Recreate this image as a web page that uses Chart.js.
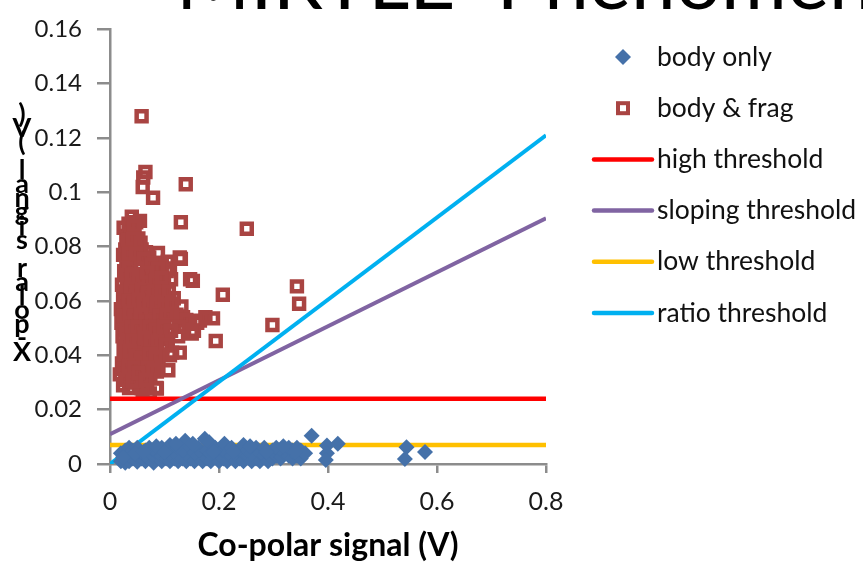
<!DOCTYPE html>
<html><head><meta charset="utf-8">
<script src="https://cdn.jsdelivr.net/npm/chart.js@4.4.1/dist/chart.umd.min.js"></script>
<style>html,body{margin:0;padding:0;background:#fff;overflow:hidden}#wrap{position:relative;width:863px;height:565px}</style>
</head><body><div id="wrap"><canvas id="c" width="863" height="565"></canvas></div>
<script>
const titleText = 'MIRTLE  Phenomenology';
const xAxisTitle = 'Co-polar signal (V)';
const yAxisTitle = 'X-polar signal (V)';
const xTickLabels = ['0', '0.2', '0.4', '0.6', '0.8'];
const yTickLabels = ['0', '0.02', '0.04', '0.06', '0.08', '0.1', '0.12', '0.14', '0.16'];
const seriesNames = ['body only', 'body & frag', 'high threshold', 'sloping threshold', 'low threshold', 'ratio threshold'];

const bodyOnly = [
  [0.020,0.001],[0.020,0.004],[0.028,0.002],[0.028,0.005],[0.028,0.0005],[0.035,0.001],[0.035,0.003],[0.035,0.006],
  [0.042,0.002],[0.042,0.005],[0.050,0.0008],[0.050,0.003],[0.050,0.006],[0.058,0.002],[0.058,0.004],
  [0.065,0.001],[0.065,0.005],[0.065,0.003],[0.072,0.002],[0.072,0.006],[0.080,0.0005],[0.080,0.003],[0.080,0.005],
  [0.088,0.002],[0.088,0.004],[0.095,0.001],[0.095,0.006],[0.095,0.003],[0.103,0.002],[0.103,0.005],
  [0.110,0.001],[0.110,0.004],[0.110,0.007],[0.118,0.002],[0.118,0.005],[0.125,0.001],[0.125,0.003],[0.125,0.006],
  [0.133,0.002],[0.133,0.005],[0.138,0.0086],[0.140,0.001],[0.140,0.004],[0.148,0.002],[0.148,0.006],
  [0.155,0.001],[0.155,0.004],[0.162,0.003],[0.162,0.006],[0.174,0.0093],[0.170,0.001],[0.170,0.004],
  [0.178,0.002],[0.178,0.005],[0.182,0.008],[0.185,0.001],[0.185,0.004],[0.193,0.003],[0.193,0.006],
  [0.200,0.001],[0.200,0.004],[0.208,0.002],[0.208,0.005],[0.210,0.0075],[0.215,0.001],[0.215,0.004],
  [0.223,0.003],[0.223,0.006],[0.230,0.001],[0.230,0.004],[0.238,0.002],[0.238,0.005],
  [0.245,0.001],[0.245,0.004],[0.245,0.007],[0.253,0.003],[0.253,0.005],[0.260,0.001],[0.260,0.004],
  [0.268,0.002],[0.268,0.006],[0.275,0.001],[0.275,0.004],[0.283,0.003],[0.283,0.006],[0.290,0.001],[0.290,0.004],
  [0.298,0.002],[0.298,0.005],[0.305,0.003],[0.305,0.006],[0.313,0.002],[0.315,0.0026],[0.320,0.004],
  [0.328,0.003],[0.328,0.006],[0.335,0.002],[0.335,0.005],[0.343,0.003],[0.343,0.006],[0.350,0.002],[0.350,0.005],[0.358,0.004],
  [0.024,0.0025],[0.046,0.004],[0.062,0.0045],[0.085,0.0065],[0.100,0.0045],[0.121,0.0075],[0.152,0.0075],
  [0.190,0.0045],[0.226,0.0045],[0.257,0.0065],[0.287,0.0045],[0.318,0.0065],[0.340,0.0045],
  [0.370,0.0104],[0.398,0.0068],[0.418,0.0075],[0.398,0.004],[0.396,0.0015],[0.544,0.0062],[0.541,0.0018],[0.578,0.0044]
];

const bodyFrag = [
  [0.058,0.128],[0.065,0.1075],[0.061,0.1055],[0.060,0.102],[0.079,0.098],[0.139,0.103],[0.130,0.089],[0.251,0.0866],
  [0.130,0.0755],[0.152,0.0674],[0.207,0.0623],[0.343,0.0654],[0.347,0.059],[0.298,0.0512],[0.194,0.0453],[0.189,0.0536],
  [0.165,0.0528],[0.147,0.0525],[0.154,0.049],[0.128,0.041],[0.107,0.0345],[0.110,0.040],[0.086,0.0278],[0.073,0.026],
  [0.088,0.0777],[0.110,0.072],[0.131,0.058],[0.134,0.054],[0.106,0.0745],[0.128,0.076],[0.147,0.068],
  [0.040,0.091],[0.048,0.089],[0.025,0.087],[0.055,0.0895],
  [0.030,0.084],[0.045,0.085],[0.052,0.083],[0.038,0.086],
  [0.028,0.079],[0.036,0.081],[0.047,0.080],[0.058,0.079],[0.066,0.078],
  [0.030,0.075],[0.041,0.076],[0.053,0.077],[0.072,0.076],[0.081,0.074],[0.095,0.073],
  [0.026,0.071],[0.035,0.072],[0.046,0.070],[0.057,0.072],[0.064,0.069],[0.078,0.071],[0.090,0.069],[0.104,0.071],
  [0.022,0.066],[0.031,0.068],[0.042,0.067],[0.051,0.065],[0.061,0.067],[0.070,0.066],[0.084,0.064],[0.099,0.066],[0.112,0.068],
  [0.024,0.061],[0.033,0.063],[0.044,0.062],[0.055,0.060],[0.063,0.063],[0.075,0.061],[0.088,0.062],[0.101,0.060],[0.117,0.061],
  [0.020,0.057],[0.029,0.058],[0.039,0.056],[0.048,0.059],[0.058,0.057],[0.067,0.055],[0.079,0.058],[0.093,0.056],[0.108,0.057],[0.122,0.055],
  [0.021,0.052],[0.032,0.054],[0.041,0.051],[0.052,0.053],[0.062,0.052],[0.071,0.054],[0.085,0.051],[0.098,0.053],[0.118,0.052],[0.140,0.053],[0.160,0.052],[0.175,0.054],
  [0.023,0.047],[0.034,0.049],[0.045,0.048],[0.056,0.046],[0.066,0.049],[0.077,0.047],[0.091,0.048],[0.106,0.046],[0.125,0.047],[0.150,0.048],
  [0.025,0.042],[0.036,0.044],[0.047,0.043],[0.059,0.041],[0.069,0.044],[0.082,0.042],[0.096,0.043],[0.114,0.041],
  [0.022,0.037],[0.031,0.039],[0.043,0.038],[0.054,0.036],[0.065,0.038],[0.078,0.037],[0.089,0.039],
  [0.018,0.033],[0.028,0.034],[0.040,0.033],[0.050,0.031],[0.062,0.033],[0.074,0.032],[0.086,0.034],
  [0.024,0.029],[0.035,0.028],[0.046,0.030],[0.057,0.028],[0.060,0.0273],[0.068,0.029],[0.085,0.028],
  [0.034,0.0885],[0.044,0.0875],
  [0.033,0.0825],[0.042,0.083],[0.056,0.0815],
  [0.024,0.077],[0.035,0.0775],[0.048,0.0775],[0.062,0.0755],[0.076,0.0735],[0.088,0.072],
  [0.030,0.0695],[0.040,0.0695],[0.052,0.068],[0.068,0.0705],[0.083,0.0675],[0.095,0.0685],
  [0.027,0.0635],[0.038,0.0645],[0.049,0.0635],[0.059,0.064],[0.069,0.063],[0.081,0.0635],[0.094,0.0635],[0.108,0.0635],
  [0.025,0.0595],[0.034,0.060],[0.044,0.0595],[0.052,0.0605],[0.062,0.059],[0.072,0.0585],[0.086,0.059],[0.100,0.0585],[0.114,0.059],
  [0.026,0.0545],[0.036,0.0555],[0.046,0.0545],[0.057,0.055],[0.066,0.0525],[0.076,0.0525],[0.091,0.0545],[0.104,0.055],[0.126,0.0505],
  [0.028,0.0495],[0.039,0.0505],[0.050,0.0505],[0.061,0.048],[0.072,0.0505],[0.083,0.0495],[0.098,0.0505],[0.112,0.049],
  [0.030,0.0445],[0.041,0.0455],[0.053,0.0445],[0.064,0.0465],[0.075,0.045],[0.087,0.045],[0.103,0.044],
  [0.027,0.0395],[0.037,0.0415],[0.048,0.040],[0.060,0.039],[0.072,0.0405],[0.084,0.0395],
  [0.025,0.035],[0.034,0.036],[0.046,0.0355],[0.057,0.034],[0.069,0.0355],[0.080,0.0345],
  [0.030,0.031],[0.042,0.0305],[0.052,0.0335],[0.066,0.031]
];

const highThreshold = [[0, 0.024], [0.8, 0.024]];
const slopingThreshold = [[0, 0.011], [0.8, 0.0905]];
const lowThreshold = [[0, 0.007], [0.8, 0.007]];
const ratioThreshold = [[0, 0.0], [0.8, 0.121]];

const colors = {
  body: '#4571A9', frag: '#A94442', high: '#FF0000', sloping: '#8064A2', low: '#FFC000', ratio: '#00B0F0'
};

const pts = a => a.map(p => ({x: p[0], y: p[1]}));
const AXIS = '#8c8c8c';
const FONT = 'Lato, "Liberation Sans", sans-serif';

const titlePlugin = {
  id: 'bgTitle',
  afterDraw(chart) {
    const ctx = chart.ctx;
    ctx.save();
    ctx.fillStyle = '#000';
    ctx.font = '80px ' + FONT;
    ctx.textBaseline = 'alphabetic';
    ctx.textAlign = 'left';
    ctx.fillText(titleText, 176, 9);
    ctx.restore();
  }
};

const yTitlePlugin = {
  id: 'stackedYTitle',
  afterDraw(chart) {
    const ctx = chart.ctx;
    ctx.save();
    ctx.fillStyle = '#000';
    ctx.font = 'bold 27px ' + FONT;
    ctx.textAlign = 'center';
    ctx.textBaseline = 'middle';
    const chars = yAxisTitle.split('');
    chars.forEach((ch, i) => { ctx.fillText(ch, 22, 352 - i * 14); });
    ctx.restore();
  }
};

const legendPlugin = {
  id: 'customLegend',
  afterDraw(chart) {
    const ctx = chart.ctx;
    ctx.save();
    const top = 57, step = 51.2;
    const kinds = ['diamond', 'square', 'line', 'line', 'line', 'line'];
    const cols = [colors.body, colors.frag, colors.high, colors.sloping, colors.low, colors.ratio];
    seriesNames.forEach((name, i) => {
      const y = top + i * step;
      if (kinds[i] === 'diamond') {
        ctx.fillStyle = cols[i];
        ctx.beginPath();
        ctx.moveTo(615, y); ctx.lineTo(623, y - 8); ctx.lineTo(631, y); ctx.lineTo(623, y + 8); ctx.closePath();
        ctx.fill();
      } else if (kinds[i] === 'square') {
        ctx.strokeStyle = cols[i]; ctx.lineWidth = 4;
        ctx.strokeRect(618, y - 5, 10, 10);
      } else {
        ctx.strokeStyle = cols[i]; ctx.lineWidth = 4.5; ctx.lineCap = 'round';
        ctx.beginPath(); ctx.moveTo(594, y); ctx.lineTo(652, y); ctx.stroke();
      }
      ctx.fillStyle = '#111';
      ctx.font = '26.5px ' + FONT;
      ctx.textAlign = 'left';
      ctx.textBaseline = 'middle';
      ctx.fillText(name, 657, y);
    });
    ctx.restore();
  }
};

new Chart(document.getElementById('c'), {
  type: 'scatter',
  data: {
    datasets: [
      { label: seriesNames[0], data: pts(bodyOnly), pointStyle: 'rectRot', pointRadius: 8, pointHoverRadius: 8,
        backgroundColor: colors.body, borderColor: colors.body, borderWidth: 0, clip: false, order: 0 },
      { label: seriesNames[1], data: pts(bodyFrag), pointStyle: 'rect', pointRadius: 7, pointHoverRadius: 7,
        backgroundColor: 'rgba(255,255,255,0)', borderColor: colors.frag, borderWidth: 4.5, clip: false, order: 4 },
      { label: seriesNames[2], data: pts(highThreshold), showLine: true, pointRadius: 0, borderColor: colors.high, borderWidth: 4.5, order: 3 },
      { label: seriesNames[3], data: pts(slopingThreshold), showLine: true, pointRadius: 0, borderColor: colors.sloping, borderWidth: 4, order: 2 },
      { label: seriesNames[4], data: pts(lowThreshold), showLine: true, pointRadius: 0, borderColor: colors.low, borderWidth: 4.5, order: 5 },
      { label: seriesNames[5], data: pts(ratioThreshold), showLine: true, pointRadius: 0, borderColor: colors.ratio, borderWidth: 4, order: 1 }
    ]
  },
  options: {
    responsive: false,
    animation: false,
    events: [],
    layout: { padding: { left: 0, top: 19, right: 317, bottom: 0 } },
    plugins: { legend: { display: false }, tooltip: { enabled: false }, title: { display: false } },
    scales: {
      x: {
        type: 'linear', min: 0, max: 0.8,
        afterFit: s => { s.height = 101; },
        border: { display: true, color: AXIS, width: 2.5 },
        grid: { drawOnChartArea: false, drawTicks: true, tickLength: 9, color: AXIS, lineWidth: 2.5 },
        ticks: { stepSize: 0.2, padding: 14, color: '#1a1a1a', font: { family: FONT, size: 25 },
                 callback: (v, i) => xTickLabels[i], maxRotation: 0, autoSkip: false },
        title: { display: true, text: xAxisTitle, color: '#000', font: { family: FONT, size: 32, weight: 'bold' },
                 padding: { top: 0, bottom: 0 } }
      },
      y: {
        type: 'linear', min: 0, max: 0.16,
        afterFit: s => { s.width = 110; },
        border: { display: true, color: AXIS, width: 2.5 },
        grid: { drawOnChartArea: false, drawTicks: true, tickLength: 13, color: AXIS, lineWidth: 2.5 },
        ticks: { stepSize: 0.02, padding: 15, color: '#1a1a1a', font: { family: FONT, size: 24 },
                 callback: (v, i) => yTickLabels[i], autoSkip: false }
      }
    }
  },
  plugins: [titlePlugin, yTitlePlugin, legendPlugin]
});
</script>
</body></html>
